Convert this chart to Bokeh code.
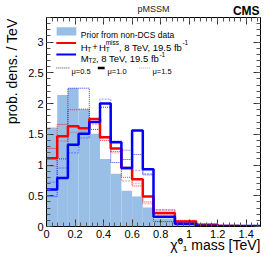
from bokeh.plotting import figure
from bokeh.models import (Label, LinearAxis, Range1d, NumeralTickFormatter, SingleIntervalTicker,
                          FixedTicker, Title)
from bokeh.embed import file_html
from bokeh.resources import INLINE

# ---------------- data ----------------
edges = [0, 0.075, 0.15, 0.225, 0.3, 0.375, 0.45, 0.525, 0.6, 0.675, 0.75, 0.9, 1.05, 1.2, 1.35, 1.5]
prior = [1.61, 2.14, 2.25, 1.91, 1.51, 1.10, 0.86, 0.58, 0.49, 0.31, 0.13, 0.04, 0.01, 0.005, 0.002]
ht_mu10 = [1.11, 1.47, 1.63, 1.60, 1.75, 1.45, 1.27, 0.95, 0.77, 0.49, 0.22, 0.08, 0.03, 0.007, 0.004]
ht_mu05 = [1.27, 1.66, 1.90, 1.91, 1.70, 1.40, 1.22, 0.80, 0.66, 0.40, 0.27, 0.10, 0.04, 0.01, 0.005]
ht_mu15 = [0.98, 1.39, 1.53, 1.55, 1.66, 1.44, 1.20, 0.74, 0.70, 0.37, 0.19, 0.07, 0.03, 0.01, 0.004]
mt2_mu10 = [0.60, 0.79, 1.33, 1.51, 1.70, 2.00, 1.37, 0.95, 1.56, 0.93, 0.16, 0.045, 0.012, 0.01, 0.01]
mt2_mu05 = [0.49, 1.10, 2.25, 2.25, 1.58, 1.94, 1.04, 1.09, 1.17, 0.84, 0.08, 0.03, 0.01, 0.005, 0.003]
mt2_mu15 = [0.72, 0.95, 1.20, 1.44, 1.69, 2.07, 1.39, 1.24, 0.91, 0.86, 0.27, 0.08, 0.02, 0.01, 0.005]

x_label = "\u03c7\u0303\u2070\u2081 mass [TeV]"
y_label = "prob. dens. / TeV"
header_center = "pMSSM"
header_right = "CMS"
header_right_at = 1.4
mu_labels = ["\u03bc=0.5", "\u03bc=1.0", "\u03bc=1.5"]

# ---------------- layout ----------------
W, H = 274, 263
BL, BR, BT, BB = 43, 14, 16, 37
FW = W - BL - BR
FH = H - BT - BB
XMAX, YMAX = 1.5, 3.4
FONT = "Liberation Sans"
FX0, FY0 = BL, BT
FY1 = FY0 + FH

def DX(px):
    return (px - FX0) / FW * XMAX

def DY(py):
    return (FY1 - py) / FH * YMAX

p = figure(width=W, height=H, x_range=Range1d(0, XMAX), y_range=Range1d(0, YMAX),
           output_backend="svg", toolbar_location=None,
           min_border_left=BL, min_border_right=BR, min_border_top=BT, min_border_bottom=BB)
p.xgrid.visible = False
p.ygrid.visible = False
p.outline_line_color = "black"
p.outline_line_width = 1
p.background_fill_color = "white"
p.border_fill_color = "white"

xt = SingleIntervalTicker(interval=0.2, num_minor_ticks=5)
yt = SingleIntervalTicker(interval=0.5, num_minor_ticks=5)

def style_axis(ax, labels):
    ax.major_tick_in = 7
    ax.major_tick_out = 0
    ax.minor_tick_in = 4
    ax.minor_tick_out = 0
    ax.axis_line_color = "black"
    ax.major_tick_line_color = "#333333"
    ax.minor_tick_line_color = "#555555"
    ax.formatter = NumeralTickFormatter(format="0.[0]")
    if labels:
        ax.major_label_text_font = FONT
        ax.major_label_text_font_size = "11px"
        ax.major_label_text_color = "black"
        ax.major_label_standoff = 3
    else:
        ax.major_label_text_font_size = "0px"
        ax.major_label_text_color = None
        ax.major_label_standoff = 0

p.xaxis.ticker = xt
p.yaxis.ticker = yt
style_axis(p.xaxis[0], True)
style_axis(p.yaxis[0], True)

ax_r = LinearAxis(ticker=yt)
ax_t = LinearAxis(ticker=xt)
style_axis(ax_r, False)
style_axis(ax_t, False)
p.add_layout(ax_r, "right")
p.add_layout(ax_t, "above")

# header row: "CMS" as a single overridden tick label, "pMSSM" as that axis' label
ax_h = LinearAxis(ticker=FixedTicker(ticks=[header_right_at], minor_ticks=[]))
ax_h.axis_line_color = None
ax_h.major_tick_line_color = None
ax_h.minor_tick_line_color = None
ax_h.major_tick_in = 0
ax_h.major_tick_out = 0
ax_h.major_label_overrides = {header_right_at: header_right}
ax_h.major_label_text_font = FONT
ax_h.major_label_text_font_size = "12px"
ax_h.major_label_text_font_style = "bold"
ax_h.major_label_text_color = "black"
ax_h.major_label_standoff = 0
ax_h.axis_label = header_center
ax_h.axis_label_text_font = FONT
ax_h.axis_label_text_font_size = "9px"
ax_h.axis_label_text_font_style = "normal"
ax_h.axis_label_text_color = "#222222"
ax_h.axis_label_standoff = -13
p.add_layout(ax_h, "above")

# axis titles
p.add_layout(Title(text=x_label, align="right", vertical_align="top", standoff=-7, offset=0,
                   text_font=FONT, text_font_size="14px", text_font_style="normal",
                   text_color="black"), "below")
p.add_layout(Title(text=y_label, align="right", vertical_align="top", standoff=7, offset=1,
                   text_font=FONT, text_font_size="14px", text_font_style="normal",
                   text_color="black"), "left")

# ---------------- histograms ----------------
PRIOR_C = "#99bfe6"
p.quad(left=edges[:-1], right=edges[1:], bottom=0, top=prior, fill_color=PRIOR_C, line_color=None)

def hist_line(vals, color, width, dash="solid", alpha=1.0):
    p.step(x=edges, y=vals + [vals[-1]], mode="after", line_color=color, line_width=width,
           line_dash=dash, line_alpha=alpha)

hist_line(ht_mu15, "#ff3030", 1.5, "2 1", 0.35)
hist_line(mt2_mu15, "#3030ff", 1.5, "2 1", 0.35)
hist_line(ht_mu05, "#ff0000", 1, "1 1", 0.8)
hist_line(mt2_mu05, "#0000ff", 1, "1 1", 0.8)
hist_line(ht_mu10, "#ff0000", 2.5)
hist_line(mt2_mu10, "#0000ff", 2.5)

# ---------------- legend ----------------
AW = {" ": 278, ",": 278, ".": 278, "-": 333, "+": 584, "=": 584, "T": 611, "e": 556, "V": 667,
      "f": 278, "b": 556, "H": 722, "M": 833, "m": 833, "i": 222, "s": 500, "P": 667, "r": 333,
      "o": 556, "n": 556, "D": 722, "C": 722, "S": 667, "d": 556, "a": 556, "t": 278, "\u03bc": 576}

def tw(s, size):
    return sum(AW.get(c, 556) for c in s) / 1000.0 * size

def txt(s, px, py, size, color="black"):
    p.add_layout(Label(x=0, y=YMAX, x_offset=px - FX0, y_offset=-(py - FY0), text=s,
                       text_font=FONT, text_font_size=f"{size}px", text_align="left",
                       text_baseline="alphabetic", text_color=color))

def row(pieces, x0, base):
    # pieces: list of (gap_before, [(text, size, dy), ...])
    x = x0
    for gap, group in pieces:
        x += gap
        wmax = 0
        for s, size, dy in group:
            txt(s, x, base + dy, size)
            wmax = max(wmax, tw(s, size))
        x += wmax

p.quad(left=[DX(53.3)], right=[DX(73.3)], bottom=[DY(34)], top=[DY(25.7)], fill_color=PRIOR_C, line_color=None)
p.segment(x0=[DX(53)], y0=[DY(41.7)], x1=[DX(73)], y1=[DY(41.7)], line_color="#ff0000", line_width=2)
p.segment(x0=[DX(53)], y0=[DY(53.3)], x1=[DX(73)], y1=[DY(53.3)], line_color="#0000ff", line_width=2)
p.segment(x0=[DX(53)], y0=[DY(66.7)], x1=[DX(67)], y1=[DY(66.7)], line_color="#444444", line_width=1, line_dash="1 1")
p.segment(x0=[DX(95)], y0=[DY(66.7)], x1=[DX(102)], y1=[DY(66.7)], line_color="black", line_width=2.5)
p.segment(x0=[DX(137)], y0=[DY(66.7)], x1=[DX(148)], y1=[DY(66.7)], line_color="#aaaaaa", line_width=1, line_dash="1 1")

LF, SF = 9.5, 6.5
row([(0, [("Prior from non-DCS data", 8.5, 0)])], 77.3, 33.5)
row([(0, [("H", LF, 0)]), (-0.5, [("T", SF, 2)]), (1.2, [("+", LF, 0)]), (1.2, [("H", LF, 0)]),
     (-0.3, [("miss", SF, -4.5), ("T", SF, 2)]), (0, [(", 8 TeV, 19.5 fb", LF, 0)]),
     (-1.5, [("-1", SF, -4.5)])], 77.3, 45.5)
row([(0, [("M", LF, 0)]), (-0.3, [("T2", SF, 2)]), (0, [(", 8 TeV, 19.5 fb", LF, 0)]),
     (-1.5, [("-1", SF, -4.5)])], 77.3, 57)
txt(mu_labels[0], 68, 70, 7.5)
txt(mu_labels[1], 104, 70, 7.5)
txt(mu_labels[2], 149, 70, 7.5)

open("out.html", "w").write(file_html(p, INLINE))
